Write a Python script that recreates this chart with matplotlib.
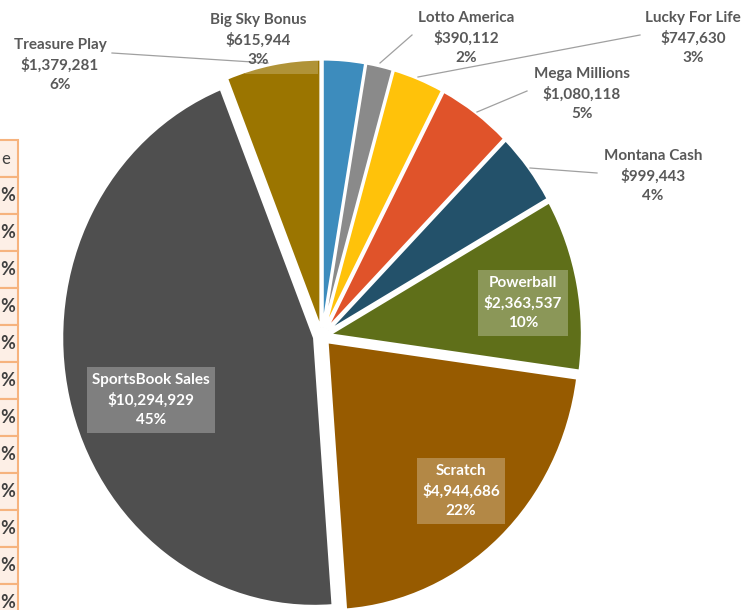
import matplotlib
matplotlib.use("Agg")
import matplotlib.pyplot as plt
from matplotlib.patches import Rectangle

# ---------------- data ----------------
categories = ["Big Sky Bonus", "Lotto America", "Lucky For Life", "Mega Millions",
              "Montana Cash", "Powerball", "Scratch", "SportsBook Sales", "Treasure Play"]
sales = [615944, 390112, 747630, 1080118, 999443, 2363537, 4944686, 10294929, 1379281]
colors = ["#3D8CBD", "#8A8A8A", "#FFC20A", "#E0532A", "#23516A",
          "#5F6F19", "#975B00", "#4F4F4F", "#9B7500"]
table_rows = 12

# ---------------- layout helpers ----------------
W, H = 755, 610
CX, CY, RX, RY = 322, 336, 252, 268      # pie centre / radii in pixels


def p2d(px, py):
    return (px - CX) / RX, (CY - py) / RY


fig = plt.figure(figsize=(W / 100, H / 100), dpi=100)
ax = fig.add_axes([0, 0, 1, 1])

total = sum(sales)
wedges, _ = ax.pie(sales, colors=colors, startangle=90, counterclock=False,
                   explode=[0.032] * len(sales),
                   wedgeprops=dict(edgecolor="white", linewidth=1.6))
ax.set_aspect("auto")
ax.set_xlim(p2d(0, 0)[0], p2d(W, 0)[0])
ax.set_ylim(p2d(0, H)[1], p2d(0, 0)[1])
ax.axis("off")

FONT = ["Lato", "DejaVu Sans"]
FS = 11
LS = 1.5


def label_text(i):
    return f"{categories[i]}\n${sales[i]:,}\n{round(100 * sales[i] / total)}%"


# translucent label box overlapping the top of the Treasure Play wedge
a, b = p2d(245, 74), p2d(318, 58)
hl = Rectangle(a, b[0] - a[0], b[1] - a[1], facecolor="white", alpha=0.22,
               edgecolor="none", zorder=3)
ax.add_patch(hl)
hl.set_clip_path(wedges[8])

# inside labels (with translucent boxes)
inside = {5: (523, 303), 6: (461, 491), 7: (151, 400)}
for i, (px, py) in inside.items():
    ax.text(*p2d(px, py), label_text(i), ha="center", va="center", color="white",
            fontsize=FS, family=FONT, fontweight="bold", linespacing=LS,
            bbox=dict(boxstyle="square,pad=0.35", facecolor="white", alpha=0.28,
                      edgecolor="none"))

# outside labels
outside = {0: (258, 40), 1: (466, 38), 2: (693, 38), 3: (582, 94),
           4: (653, 176), 8: (60, 65)}
for i, (px, py) in outside.items():
    ax.text(*p2d(px, py), label_text(i), ha="center", va="center", color="#595959",
            fontsize=FS, family=FONT, fontweight="bold", linespacing=LS, zorder=5)

# leader lines
leaders = [((112, 53), (268, 63)),      # Treasure Play
           ((412, 35), (380, 63)),      # Lotto America
           ((640, 35), (418, 77)),      # Lucky For Life
           ((527, 91), (477, 112)),     # Mega Millions
           ((597, 173), (530, 168))]    # Montana Cash
for (x0, y0), (x1, y1) in leaders:
    a, b = p2d(x0, y0), p2d(x1, y1)
    ax.plot([a[0], b[0]], [a[1], b[1]], color="#A0A0A0", lw=0.9, zorder=4)

# partial table at the left edge
tx0, tx1 = -40, 18
row_h = 37
top = 140
for r in range(table_rows + 1):
    y0 = top + r * row_h
    a = p2d(tx0, y0 + row_h)
    b = p2d(tx1, y0)
    ax.add_patch(Rectangle(a, b[0] - a[0], b[1] - a[1], facecolor="#FDEFE6",
                           edgecolor="#F6B37E", lw=1.5, zorder=1, clip_on=True))
    if r == 0:
        ax.text(*p2d(1, y0 + row_h / 2), "e", ha="left", va="center",
                color="#404040", fontsize=12, family=FONT, zorder=2)
    else:
        ax.text(*p2d(15, y0 + row_h / 2), "%", ha="right", va="center",
                color="#404040", fontsize=13, family=FONT, fontweight="bold",
                zorder=2)

fig.savefig("out.png", dpi=100)
